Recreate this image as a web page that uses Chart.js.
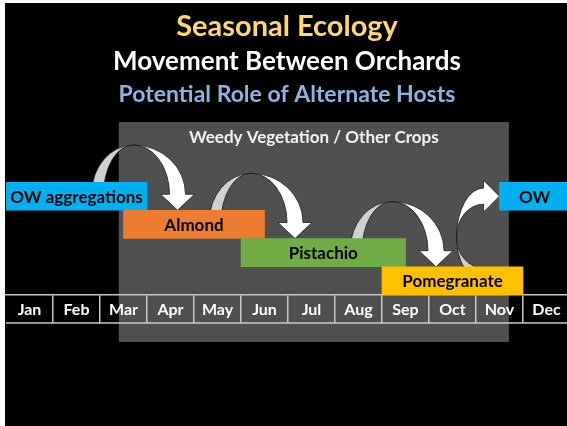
<!DOCTYPE html>
<html>
<head>
<meta charset="utf-8">
<script src="https://cdn.jsdelivr.net/npm/chart.js@4.4.1/dist/chart.umd.min.js"></script>
<style>
  html, body { margin: 0; padding: 0; background: #fff; overflow: hidden; }
  #wrap { position: absolute; left: 5px; top: 3px; width: 570px; height: 423px; background: #000; }
</style>
</head>
<body>
<div id="wrap"><canvas id="chart"></canvas></div>
<script>
// Headings
const titleLines = ['Seasonal Ecology', 'Movement Between Orchards', 'Potential Role of Alternate Hosts'];
const titleColors = ['#FFD966', '#FFFFFF', '#8DB3E2'];

// Months along the bottom
const months = ['Jan', 'Feb', 'Mar', 'Apr', 'May', 'Jun', 'Jul', 'Aug', 'Sep', 'Oct', 'Nov', 'Dec'];

// Stages, in months from Jan 1 (0 = start of Jan, 12 = end of Dec)
const stages = ['OW aggregations', 'Almond', 'Pistachio', 'Pomegranate', 'OW'];
const stageStart = [0, 2.5, 5, 8, 10.5];
const stageEnd = [3, 5.5, 8.5, 11, 12];
const stageRow = ['r1', 'r2', 'r3', 'r4', 'r1'];
const stageColors = ['#00B0F0', '#ED7D31', '#70AD47', '#FFC000', '#00B0F0'];
const rows = ['r1', 'r2', 'r3', 'r4'];

// Background band
const weedyLabel = 'Weedy Vegetation / Other Crops';
const weedySpan = [2.4, 10.7];

// Movement arrows between stages (from, to)
const moves = [[0, 1], [1, 2], [2, 3], [3, 4]];

const FONT = 'Lato';

// Dotted grey texture for the weedy band
function weedyPattern(ctx) {
  const tile = document.createElement('canvas');
  tile.width = 4; tile.height = 4;
  const t = tile.getContext('2d');
  t.fillStyle = '#4a4a4a'; t.fillRect(0, 0, 4, 4);
  t.fillStyle = '#555555'; t.fillRect(0, 0, 2, 2); t.fillRect(2, 2, 2, 2);
  return ctx.createPattern(tile, 'repeat');
}

// Curved arrow going down onto the next crop
function downArrow(ctx, tipX, tipY, peakY) {
  const yh = tipY - 16;
  const cx = tipX - 44;
  const ry = yh - peakY;
  ctx.beginPath();
  ctx.ellipse(cx, yh, 42, ry, 0, Math.PI, 1.5 * Math.PI);
  ctx.ellipse(cx, yh, 30, ry, 0, 1.5 * Math.PI, Math.PI, true);
  ctx.closePath();
  ctx.fillStyle = '#d0d0d0';
  ctx.fill(); ctx.stroke();

  ctx.beginPath();
  ctx.ellipse(cx, yh, 52, ry, 0, 1.5 * Math.PI, 2 * Math.PI);
  ctx.lineTo(tipX + 17, yh);
  ctx.lineTo(tipX, tipY);
  ctx.lineTo(tipX - 17, yh);
  ctx.ellipse(cx, yh, 36, ry, 0, 0, 1.5 * Math.PI, true);
  ctx.closePath();
  ctx.fillStyle = '#ffffff';
  ctx.fill(); ctx.stroke();
}

// Curved arrow going back up to overwintering
function upArrow(ctx, tipX, tipY) {
  const xh = tipX - 16;
  const cy = tipY + 41;
  ctx.beginPath();
  ctx.ellipse(xh, cy, 27, 44, 0, 0.5 * Math.PI, Math.PI);
  ctx.ellipse(xh, cy, 27, 31, 0, Math.PI, 0.5 * Math.PI, true);
  ctx.closePath();
  ctx.fillStyle = '#d0d0d0';
  ctx.fill(); ctx.stroke();

  ctx.beginPath();
  ctx.ellipse(xh, cy, 27, 49, 0, Math.PI, 1.5 * Math.PI);
  ctx.lineTo(xh, tipY - 16);
  ctx.lineTo(tipX, tipY);
  ctx.lineTo(xh, tipY + 16);
  ctx.lineTo(xh, cy - 33);
  ctx.ellipse(xh, cy, 27, 33, 0, 1.5 * Math.PI, Math.PI, true);
  ctx.closePath();
  ctx.fillStyle = '#ffffff';
  ctx.fill(); ctx.stroke();
}

const backdrop = {
  id: 'backdrop',
  beforeDraw(chart) {
    const { ctx, chartArea, scales } = chart;
    const left = scales.x.getPixelForValue(weedySpan[0]);
    const right = scales.x.getPixelForValue(weedySpan[1]);
    const top = chartArea.top - 60;
    const bottom = chartArea.bottom + 47;
    ctx.save();
    ctx.fillStyle = weedyPattern(ctx);
    ctx.fillRect(left, top, right - left, bottom - top);

    ctx.textAlign = 'center';
    ctx.textBaseline = 'middle';
    ctx.fillStyle = '#f2f2f2';
    ctx.font = 'bold 17px ' + FONT;
    ctx.fillText(weedyLabel, (left + right) / 2, top + 16);

    // headings
    const sizes = [29, 26, 23];
    const ys = [24, 59, 92];
    titleLines.forEach((t, i) => {
      ctx.fillStyle = titleColors[i];
      ctx.font = 'bold ' + sizes[i] + 'px ' + FONT;
      ctx.fillText(t, 282, ys[i]);
    });
    ctx.restore();
  },
  beforeDatasetsDraw(chart) {
    const { ctx } = chart;
    const bars = chart.getDatasetMeta(0).data;
    ctx.save();
    ctx.strokeStyle = '#1a1a1a';
    ctx.lineWidth = 0.8;
    moves.forEach(([a, b]) => {
      const from = bars[a], to = bars[b];
      const fromTop = from.y - from.height / 2;
      if (to.y > from.y) {
        const toLeft = Math.min(to.x, to.base);
        downArrow(ctx, toLeft + 54, to.y - to.height / 2, fromTop - 37);
      } else {
        upArrow(ctx, Math.min(to.x, to.base), to.y);
      }
    });
    ctx.restore();
  },
  afterDatasetsDraw(chart) {
    const { ctx } = chart;
    const bars = chart.getDatasetMeta(0).data;
    ctx.save();
    ctx.fillStyle = '#000';
    ctx.font = 'bold 17px ' + FONT;
    ctx.textAlign = 'center';
    ctx.textBaseline = 'middle';
    bars.forEach((bar, i) => {
      ctx.fillText(stages[i], (bar.x + bar.base) / 2, bar.y + 1);
    });
    ctx.restore();
  },
  afterDraw(chart) {
    // bottom rule of the month table
    const { ctx, chartArea, scales } = chart;
    const y = scales.m.top + 28;
    ctx.save();
    ctx.strokeStyle = '#c8c8c8';
    ctx.lineWidth = 1.5;
    ctx.beginPath();
    ctx.moveTo(chartArea.left, y);
    ctx.lineTo(chartArea.right, y);
    ctx.stroke();
    ctx.restore();
  }
};

new Chart(document.getElementById('chart'), {
  type: 'bar',
  data: {
    labels: rows,
    datasets: [{
      data: stages.map((s, i) => ({ y: stageRow[i], x: [stageStart[i], stageEnd[i]] })),
      backgroundColor: stageColors,
      borderWidth: 0,
      barPercentage: 1,
      categoryPercentage: 1
    }]
  },
  options: {
    indexAxis: 'y',
    responsive: true,
    maintainAspectRatio: false,
    animation: false,
    layout: { padding: { top: 179, left: 1, right: 5, bottom: 100 } },
    plugins: { legend: { display: false }, tooltip: { enabled: false } },
    scales: {
      x: { type: 'linear', min: 0, max: 12, display: false },
      y: { type: 'category', display: false, offset: true },
      m: {
        type: 'category',
        labels: months,
        position: 'bottom',
        offset: true,
        grid: {
          offset: true,
          drawOnChartArea: false,
          tickLength: 28,
          lineWidth: 1.5,
          color: (c) => c.index === 0 ? 'rgba(0,0,0,0)' : '#c8c8c8'
        },
        border: { display: true, color: '#c8c8c8', width: 1.5 },
        ticks: {
          color: '#ffffff',
          font: { family: FONT, size: 16, weight: 'bold' },
          padding: -23,
          maxRotation: 0,
          autoSkip: false
        },
        afterFit: (scale) => { scale.height = 31; }
      }
    }
  },
  plugins: [backdrop]
});
</script>
</body>
</html>
